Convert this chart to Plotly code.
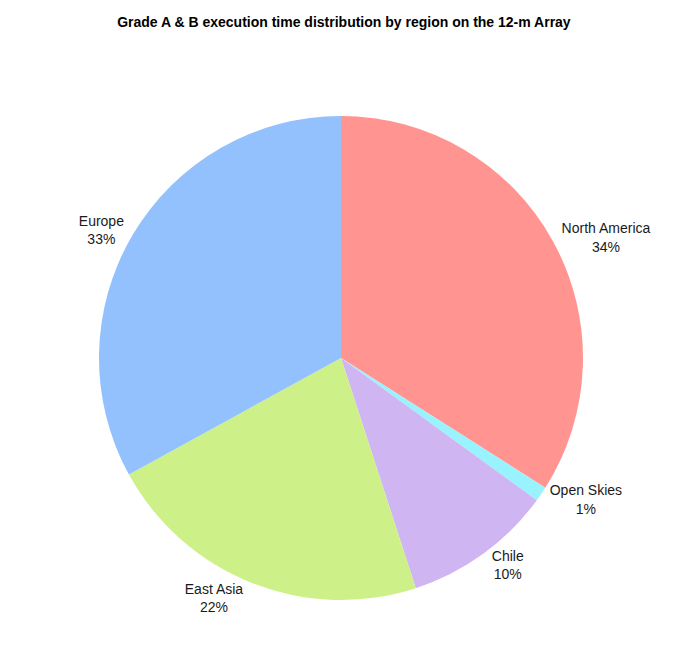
import plotly.graph_objects as go

regions = ["North America", "Open Skies", "Chile", "East Asia", "Europe"]
shares = [34, 1, 10, 22, 33]
colors = ["#ff9490", "#99f3ff", "#cfb5f2", "#cdf188", "#92c1fd"]

fig = go.Figure(go.Pie(
    labels=regions,
    values=shares,
    sort=False,
    direction="clockwise",
    rotation=0,
    marker=dict(colors=colors, line=dict(width=0)),
    textposition="outside",
    texttemplate="%{label}<br>%{percent:.0%}",
    textfont=dict(size=14, color="#1a1a1a", family="Liberation Sans, Arial, sans-serif"),
    hoverinfo="label+percent",
    showlegend=False,
))

fig.update_layout(
    width=680, height=670,
    paper_bgcolor="white", plot_bgcolor="white",
    margin=dict(l=91, r=105, t=108, b=78),
    title=dict(text="<b>Grade A &amp; B execution time distribution by region on the 12-m Array</b>",
               x=0.494, xanchor="center", y=0.979, yanchor="middle",
               font=dict(size=14, color="#000000", family="Liberation Sans, Arial, sans-serif")),
)

fig.write_html("out.html")
